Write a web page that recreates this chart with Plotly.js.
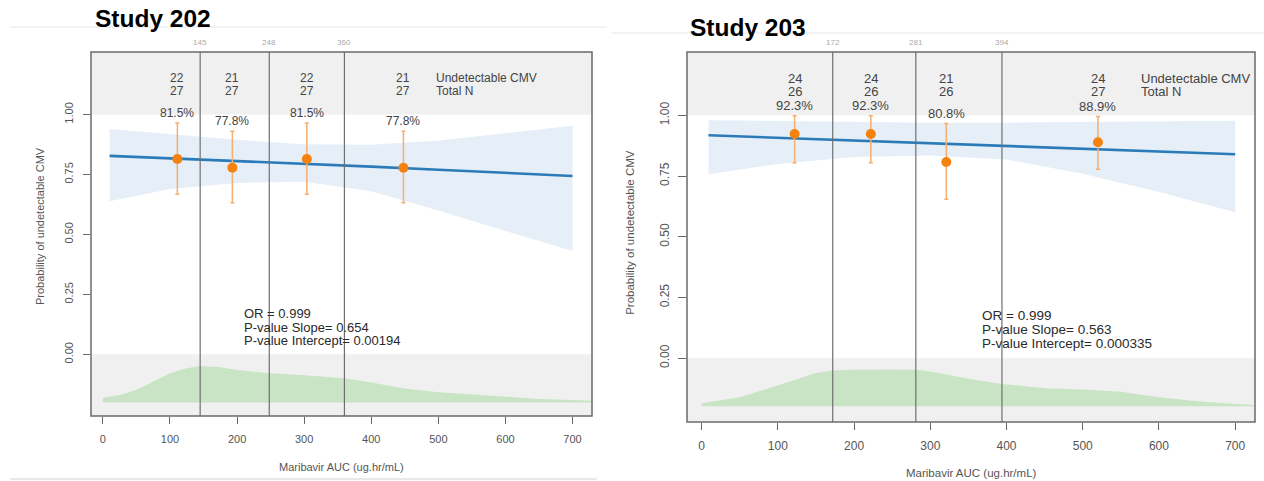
<!DOCTYPE html>
<html>
<head>
<meta charset="utf-8">
<script src="https://cdn.plot.ly/plotly-3.0.1.min.js"></script>
<style>html,body{margin:0;padding:0;background:#fff;}#chart{width:1264px;height:481px;}</style>
</head>
<body>
<div id="chart"></div>
<script>
// ---------- Study 202 ----------
const title202 = 'Study 202';
const auc202 = [10, 100, 200, 300, 400, 500, 600, 700];
const fit202 = [0.828, 0.818, 0.807, 0.795, 0.783, 0.770, 0.757, 0.744];
const ciHi202 = [0.940, 0.918, 0.895, 0.876, 0.874, 0.892, 0.922, 0.953];
const ciLo202 = [0.639, 0.690, 0.715, 0.720, 0.680, 0.600, 0.515, 0.431];
const ptsX202 = [111, 193, 304, 448];
const ptsY202 = [0.815, 0.778, 0.815, 0.778];
const ptsHi202 = [0.965, 0.930, 0.965, 0.930];
const ptsLo202 = [0.668, 0.632, 0.668, 0.632];
const pct202 = ['81.5%', '77.8%', '81.5%', '77.8%'];
const undet202 = ['22', '21', '22', '21'];
const totN202 = ['27', '27', '27', '27'];
const cuts202 = [145, 248, 360];
const densX202 = [0, 25, 50, 75, 100, 125, 145, 175, 200, 248, 300, 360, 400, 450, 500, 550, 600, 650, 700, 729];
const densY202 = [-0.181, -0.169, -0.149, -0.114, -0.079, -0.058, -0.049, -0.054, -0.065, -0.079, -0.087, -0.100, -0.117, -0.142, -0.158, -0.167, -0.176, -0.186, -0.190, -0.193];
const densBase202 = -0.201;
const stats202 = ['OR = 0.999', 'P-value Slope= 0.654', 'P-value Intercept= 0.00194'];

// ---------- Study 203 ----------
const title203 = 'Study 203';
const auc203 = [9, 100, 200, 300, 400, 500, 600, 700];
const fit203 = [0.918, 0.908, 0.897, 0.885, 0.874, 0.863, 0.852, 0.840];
const ciHi203 = [0.980, 0.977, 0.973, 0.970, 0.970, 0.972, 0.975, 0.978];
const ciLo203 = [0.757, 0.800, 0.828, 0.835, 0.818, 0.760, 0.684, 0.601];
const ptsX203 = [122, 222, 321, 520];
const ptsY203 = [0.923, 0.923, 0.808, 0.889];
const ptsHi203 = [0.998, 0.998, 0.966, 0.995];
const ptsLo203 = [0.805, 0.805, 0.654, 0.778];
const pct203 = ['92.3%', '92.3%', '80.8%', '88.9%'];
const undet203 = ['24', '24', '21', '24'];
const totN203 = ['26', '26', '26', '27'];
const cuts203 = [172, 281, 394];
const densX203 = [0, 50, 100, 150, 172, 200, 250, 281, 300, 350, 394, 450, 500, 550, 600, 650, 700, 726];
const densY203 = [-0.186, -0.161, -0.113, -0.061, -0.051, -0.048, -0.047, -0.048, -0.055, -0.085, -0.106, -0.124, -0.129, -0.138, -0.161, -0.178, -0.189, -0.193];
const densBase203 = -0.198;
const stats203 = ['OR = 0.999', 'P-value Slope= 0.563', 'P-value Intercept= 0.000335'];

// shared labels
const xTicks = [0, 100, 200, 300, 400, 500, 600, 700];
const yTicks = [0, 0.25, 0.5, 0.75, 1.0];
const rowLabels = ['Undetectable CMV', 'Total N'];
const xTitle = 'Maribavir AUC (ug.hr/mL)';
const yTitle = 'Probability of undetectable CMV';

const FONT = 'Liberation Sans, Arial, sans-serif';
const traces = [];
const shapes = [];
const annotations = [];

function panel(o) {
  const xa = o.xa, ya = o.ya;
  // density
  traces.push({x: o.densX, y: o.densX.map(() => o.densBase), xaxis: xa, yaxis: ya, mode: 'lines',
    line: {width: 0, color: 'rgba(0,0,0,0)'}, hoverinfo: 'skip', showlegend: false});
  traces.push({x: o.densX, y: o.densY, xaxis: xa, yaxis: ya, mode: 'lines', fill: 'tonexty',
    fillcolor: '#c9e4c5', line: {width: 0, color: '#c9e4c5'}, showlegend: false});
  // CI band
  traces.push({x: o.auc, y: o.ciLo, xaxis: xa, yaxis: ya, mode: 'lines',
    line: {width: 0, color: 'rgba(0,0,0,0)'}, showlegend: false});
  traces.push({x: o.auc, y: o.ciHi, xaxis: xa, yaxis: ya, mode: 'lines', fill: 'tonexty',
    fillcolor: '#e6eff8', line: {width: 0, color: '#e6eff8'}, showlegend: false});
  // fit line
  traces.push({x: o.auc, y: o.fit, xaxis: xa, yaxis: ya, mode: 'lines',
    line: {width: 2.6, color: '#2c7bb9'}, showlegend: false});
  // observed points
  traces.push({x: o.ptsX, y: o.ptsY, xaxis: xa, yaxis: ya, mode: 'markers',
    marker: {size: 10, color: '#f5820f'},
    error_y: {type: 'data', symmetric: false,
      array: o.ptsHi.map((h, i) => h - o.ptsY[i]),
      arrayminus: o.ptsLo.map((l, i) => o.ptsY[i] - l),
      color: '#f5ad70', thickness: 1.5, width: 2},
    showlegend: false});

  const xd = xa === 'x' ? 'x domain' : 'x2 domain';
  const yd = ya === 'y' ? 'y domain' : 'y2 domain';
  // grey bands
  shapes.push({type: 'rect', xref: xd, yref: ya, x0: 0, x1: 1, y0: 1.0, y1: o.yr[1], layer: 'below',
    fillcolor: '#f0f0f0', line: {width: 0}});
  shapes.push({type: 'rect', xref: xd, yref: ya, x0: 0, x1: 1, y0: o.yr[0], y1: 0, layer: 'below',
    fillcolor: '#f0f0f0', line: {width: 0}});
  // cut lines
  o.cuts.forEach(c => {
    shapes.push({type: 'line', xref: xa, yref: yd, x0: c, x1: c, y0: 0, y1: 1, layer: 'above',
      line: {color: '#6f6f6f', width: 1.2}});
    annotations.push({xref: xa, yref: 'paper', x: c, y: 0.911, text: String(c), showarrow: false,
      font: {family: FONT, size: 8, color: '#aaaaaa'}, xanchor: 'center', yanchor: 'middle'});
  });
  // frame
  shapes.push({type: 'rect', xref: xd, yref: yd, x0: 0, x1: 1, y0: 0, y1: 1, layer: 'above',
    line: {color: '#6a6a6a', width: 1.5}});

  // header texts
  o.ptsX.forEach((x, i) => {
    annotations.push({xref: xa, yref: ya, x: x, y: 1.153, text: o.undet[i], showarrow: false,
      font: {family: FONT, size: o.hf, color: '#444'}, xanchor: 'center', yanchor: 'middle'});
    annotations.push({xref: xa, yref: ya, x: x, y: 1.099, text: o.tot[i], showarrow: false,
      font: {family: FONT, size: o.hf, color: '#444'}, xanchor: 'center', yanchor: 'middle'});
    annotations.push({xref: xa, yref: ya, x: x, y: o.ptsHi[i], yshift: 10, text: o.pct[i], showarrow: false,
      font: {family: FONT, size: o.hf, color: '#444'}, xanchor: 'center', yanchor: 'middle'});
  });
  annotations.push({xref: xa, yref: ya, x: o.rowX, y: 1.153, text: rowLabels[0], showarrow: false,
    font: {family: FONT, size: o.hf, color: '#444'}, xanchor: 'left', yanchor: 'middle'});
  annotations.push({xref: xa, yref: ya, x: o.rowX, y: 1.099, text: rowLabels[1], showarrow: false,
    font: {family: FONT, size: o.hf, color: '#444'}, xanchor: 'left', yanchor: 'middle'});
  // stats lines
  o.stats.forEach((s, i) => {
    annotations.push({xref: xa, yref: ya, x: o.statX, y: o.statY[i], text: s, showarrow: false,
      font: {family: FONT, size: o.sf, color: '#2a2a2a'}, xanchor: 'left', yanchor: 'middle',
      borderpad: 0});
  });
  // titles
  annotations.push({xref: xd, yref: 'paper', x: 0.5, y: o.xtY, text: xTitle, showarrow: false,
    font: {family: FONT, size: o.tf, color: '#555'}, xanchor: 'center', yanchor: 'middle'});
  annotations.push({xref: 'paper', yref: 'paper', x: o.ytX, y: o.ytY, text: yTitle, showarrow: false,
    textangle: -90, font: {family: FONT, size: o.tf, color: '#555'}, xanchor: 'center', yanchor: 'middle'});
  annotations.push({xref: 'paper', yref: 'paper', x: o.stX, y: o.stY, text: '<b>' + o.title + '</b>', showarrow: false,
    font: {family: FONT, size: 24.5, color: '#000'}, xanchor: 'left', yanchor: 'middle'});
}

panel({xa: 'x', ya: 'y', yr: [-0.257, 1.261], auc: auc202, fit: fit202, ciHi: ciHi202, ciLo: ciLo202,
  ptsX: ptsX202, ptsY: ptsY202, ptsHi: ptsHi202, ptsLo: ptsLo202, pct: pct202, undet: undet202, tot: totN202,
  cuts: cuts202, densX: densX202, densY: densY202, densBase: densBase202, stats: stats202,
  hf: 12, sf: 13, tf: 11, rowX: 494, statX: 209, statY: [0.172, 0.114, 0.056],
  xtY: 0.030, ytX: 0.0316, ytY: 0.530, stX: 0.0736, stY: 0.9605, title: title202});
panel({xa: 'x2', ya: 'y2', yr: [-0.263, 1.261], auc: auc203, fit: fit203, ciHi: ciHi203, ciLo: ciLo203,
  ptsX: ptsX203, ptsY: ptsY203, ptsHi: ptsHi203, ptsLo: ptsLo203, pct: pct203, undet: undet203, tot: totN203,
  cuts: cuts203, densX: densX203, densY: densY203, densBase: densBase203, stats: stats203,
  hf: 13, sf: 13.5, tf: 11.5, rowX: 574, statX: 366, statY: [0.177, 0.118, 0.059],
  xtY: 0.0175, ytX: 0.4984, ytY: 0.518, stX: 0.5443, stY: 0.9418, title: title203});

// faint slide borders
shapes.push({type: 'line', xref: 'paper', yref: 'paper', x0: 0.008, x1: 0.48, y0: 1 - 27 / 481, y1: 1 - 27 / 481,
  line: {color: '#e6e6e6', width: 1}});
shapes.push({type: 'line', xref: 'paper', yref: 'paper', x0: 0.484, x1: 1, y0: 1 - 33 / 481, y1: 1 - 33 / 481,
  line: {color: '#e6e6e6', width: 1}});
shapes.push({type: 'line', xref: 'paper', yref: 'paper', x0: 0.008, x1: 0.472, y0: 1 - 479 / 481, y1: 1 - 479 / 481,
  line: {color: '#e0e0e0', width: 1.5}});

function xaxisDef(domain, range, anchor, fs, stand) {
  return {domain: domain, range: range, anchor: anchor, tickvals: xTicks, ticks: 'outside', ticklen: 7,
    tickwidth: 1, tickcolor: '#666', showgrid: false, zeroline: false, showline: false,
    tickfont: {family: FONT, size: fs, color: '#555'}, ticklabelstandoff: stand, fixedrange: true};
}
function yaxisDef(domain, range, anchor, fs, tl, stand) {
  return {domain: domain, range: range, anchor: anchor, tickvals: yTicks, tickformat: '.2f', tickangle: -90,
    ticks: 'outside', ticklen: tl, tickwidth: 1, tickcolor: '#666', showgrid: false, zeroline: false,
    showline: false, tickfont: {family: FONT, size: fs, color: '#555'}, ticklabelstandoff: stand, fixedrange: true};
}

const layout = {
  width: 1264, height: 481,
  margin: {l: 0, r: 0, t: 0, b: 0},
  paper_bgcolor: '#fff', plot_bgcolor: '#fff',
  showlegend: false,
  xaxis: xaxisDef([91 / 1264, 592 / 1264], [-17.7, 729], 'y', 11, 6),
  yaxis: yaxisDef([65 / 481, 429 / 481], [-0.257, 1.261], 'x', 11, 7, 6),
  xaxis2: xaxisDef([687 / 1264, 1255 / 1264], [-19.2, 726], 'y2', 12, 6),
  yaxis2: yaxisDef([59 / 481, 429 / 481], [-0.263, 1.261], 'x2', 12, 8, 4),
  shapes: shapes,
  annotations: annotations
};

Plotly.newPlot('chart', traces, layout, {displayModeBar: false, staticPlot: true});
</script>
</body>
</html>
